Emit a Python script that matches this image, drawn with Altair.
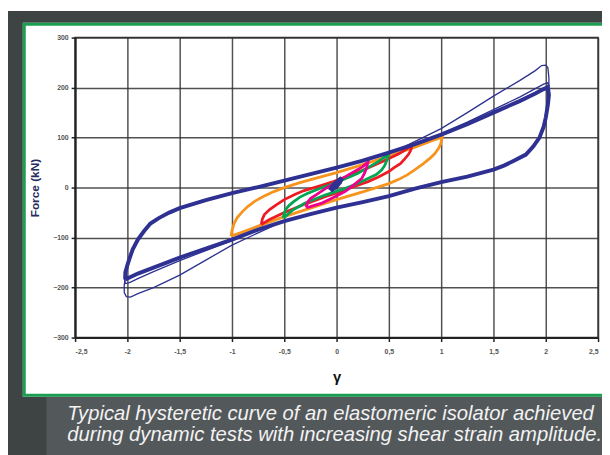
import altair as alt
import pandas as pd

# ---------------- data ----------------
x_ticks = [-2.5, -2, -1.5, -1, -0.5, 0, 0.5, 1, 1.5, 2, 2.5]
y_ticks = [-300, -200, -100, 0, 100, 200, 300]

# main large loop (gamma = +/-2), several stabilised cycles
main_gamma = [-2.02, -2.02, -2.0, -1.98, -1.95, -1.9, -1.84, -1.78, -1.7, -1.6, -1.5, -1.25, -1.0, -0.75, -0.5,
              -0.25, 0.0, 0.25, 0.5, 0.75, 1.0, 1.25, 1.5, 1.75, 1.9, 1.98, 2.02,
              2.03, 2.02, 2.0, 1.98, 1.94, 1.88, 1.81, 1.7, 1.6, 1.5, 1.25, 1.0, 0.75, 0.5, 0.25, 0.0,
              -0.25, -0.5, -0.75, -1.0, -1.25, -1.5, -1.75, -1.9, -1.98, -2.02]
main_force = [-184, -170, -155, -142, -124, -104, -87, -72, -61, -50, -41, -25, -11, 1, 14,
              27, 40, 54, 70, 87, 106, 127, 150, 173, 188, 197, 201,
              185, 165, 140, 122, 100, 82, 66, 54, 44, 36, 22, 11, -2, -17, -29, -40,
              -53, -67, -84, -104, -122, -140, -160, -172, -180, -184]

# first large cycle (thin line, overshoot)
first_up_gamma = [0.6, 1.0, 1.25, 1.5, 1.75, 1.9, 1.96, 2.0, 2.02, 2.03, 2.03, 2.02]
first_up_force = [77, 118, 150, 183, 214, 234, 244, 245, 240, 220, 195, 170]
first_dn_gamma = [-0.6, -1.0, -1.25, -1.5, -1.75, -1.9, -1.97, -2.01, -2.03, -2.03, -2.02]
first_dn_force = [-76, -115, -145, -175, -200, -212, -219, -218, -210, -195, -180]

# second large cycle (thin line, slightly outside the main bundle)
second_up_gamma = [1.0, 1.25, 1.5, 1.75, 1.9, 1.98, 2.02, 2.03, 2.02]
second_up_force = [108, 131, 156, 181, 198, 207, 210, 195, 170]
second_dn_gamma = [-1.0, -1.25, -1.5, -1.75, -1.9, -1.98, -2.02, -2.03, -2.02]
second_dn_force = [-106, -126, -146, -168, -182, -190, -192, -180, -165]

orange_gamma = [-1.01, -1.0, -0.98, -0.95, -0.9, -0.85, -0.78, -0.7, -0.6, -0.5, -0.35, -0.16, 0.0, 0.25, 0.5,
                0.75, 0.9, 1.0, 1.01, 1.0, 0.98, 0.94, 0.9, 0.83, 0.75, 0.68, 0.6, 0.5, 0.35, 0.21, 0.0,
                -0.25, -0.5, -0.75, -0.9, -1.01]
orange_force = [-97, -86, -72, -60, -48, -38, -27, -18, -8, 0, 10, 21, 30, 46, 63,
                81, 93, 100, 102, 90, 80, 68, 60, 48, 36, 26, 17, 8, -2, -11, -24,
                -41, -58, -77, -89, -97]

red_gamma = [-0.72, -0.71, -0.69, -0.64, -0.58, -0.5, -0.4, -0.31, -0.15, -0.03, 0.15, 0.3, 0.45, 0.6, 0.72,
             0.71, 0.69, 0.65, 0.61, 0.55, 0.5, 0.4, 0.3, 0.15, 0.05, -0.11, -0.3, -0.5, -0.65, -0.72]
red_force = [-74, -63, -54, -44, -35, -24, -14, -6, 4, 12, 26, 39, 53, 68, 84,
             75, 67, 57, 48, 40, 32, 21, 12, 1, -7, -18, -33, -50, -65, -74]

green_gamma = [-0.51, -0.5, -0.48, -0.45, -0.41, -0.35, -0.28, -0.15, -0.03, 0.1, 0.2, 0.3, 0.4, 0.47, 0.5,
               0.49, 0.48, 0.46, 0.43, 0.38, 0.3, 0.2, 0.08, -0.11, -0.3, -0.42, -0.51]
green_force = [-61, -50, -42, -35, -28, -19, -12, -1, 8, 19, 28, 40, 52, 63, 68,
               60, 54, 44, 35, 26, 18, 8, -2, -15, -31, -45, -61]

magenta_gamma = [-0.29, -0.28, -0.25, -0.2, -0.1, 0.02, 0.15, 0.25, 0.3,
                 0.29, 0.27, 0.24, 0.18, 0.15, 0.08, -0.03, -0.14, -0.25, -0.29]
magenta_force = [-40, -30, -22, -15, -1, 14, 30, 42, 51,
                 42, 30, 18, 8, 3, -8, -20, -31, -38, -40]

tiny_gamma = [-0.06, -0.04, -0.01, 0.02, 0.05, 0.03, 0.0, -0.03, -0.06]
tiny_force = [-6, 2, 9, 14, 19, 10, 3, -2, -6]

caption_line1 = "Typical hysteretic curve of an elastomeric isolator achieved"
caption_line2 = "during dynamic tests with increasing shear strain amplitude."
x_title = "γ"
y_title = "Force (kN)"

# ---------------- build table ----------------
rows = []


def add(name, g, f):
    for i, (a, b) in enumerate(zip(g, f)):
        rows.append({"series": name, "idx": i, "gamma": a, "force": b})


add("first_up", first_up_gamma, first_up_force)
add("first_dn", first_dn_gamma, first_dn_force)
add("second_up", second_up_gamma, second_up_force)
add("second_dn", second_dn_gamma, second_dn_force)
add("main", main_gamma, main_force)
add("orange", orange_gamma, orange_force)
add("red", red_gamma, red_force)
add("green", green_gamma, green_force)
add("magenta", magenta_gamma, magenta_force)
add("tiny", tiny_gamma, tiny_force)
df = pd.DataFrame(rows)

navy = "#2e3192"
color_domain = ["first_up", "first_dn", "second_up", "second_dn", "main", "orange", "red", "green", "magenta", "tiny"]
color_range = [navy, navy, navy, navy, navy, "#f7941d", "#ed1c24", "#00a651", "#ec008c", navy]

W, H = 530, 304
PL, PT = 68, 27

xscale = alt.Scale(domain=[-2.5, 2.5], nice=False, zero=False)
yscale = alt.Scale(domain=[-300, 300], nice=False, zero=False)

x_axis = alt.Axis(values=x_ticks, labelExpr="replace(toString(datum.value), '.', ',')",
                  title=x_title, titleFontSize=15, titleFontWeight="bold", titleColor="#111",
                  titleY=40, titleBaseline="middle", titleFont="Liberation Sans",
                  labelFontSize=7, labelColor="#555", labelPadding=6, labelFont="Liberation Sans",
                  labelFontWeight="bold",
                  tickSize=4, tickColor="#222", tickWidth=1.5, domainColor="#222", domainWidth=2,
                  grid=True, gridColor="#333333", gridWidth=1.5, gridOpacity=0.85)
y_axis = alt.Axis(values=y_ticks, title=y_title, titleFontSize=12, titleFontWeight="bold",
                  titleColor="#262b5e", titleX=-41, titleY=H / 2, titleAngle=270, titleBaseline="middle",
                  titleFont="Liberation Sans",
                  labelFontSize=7, labelColor="#555", labelPadding=3, labelFont="Liberation Sans",
                  labelFontWeight="bold",
                  tickSize=4, tickColor="#222", tickWidth=1.5, domainColor="#222", domainWidth=2,
                  grid=True, gridColor="#333333", gridWidth=1.5, gridOpacity=0.85)

base = alt.Chart(df)
enc = dict(
    x=alt.X("gamma:Q", scale=xscale, axis=x_axis),
    y=alt.Y("force:Q", scale=yscale, axis=y_axis),
    color=alt.Color("series:N", scale=alt.Scale(domain=color_domain, range=color_range), legend=None),
    detail="series:N",
    order=alt.Order("idx:Q"),
)

thin = base.transform_filter(
    alt.FieldOneOfPredicate(field="series", oneOf=["first_up", "first_dn", "second_up", "second_dn"])
).mark_line(strokeWidth=1.3).encode(**enc)
small = base.transform_filter(
    alt.FieldOneOfPredicate(field="series", oneOf=["orange", "red", "green", "magenta"])
).mark_line(strokeWidth=2.8).encode(**enc)
main = base.transform_filter(alt.datum.series == "main").mark_line(strokeWidth=4).encode(**enc)
tiny = base.transform_filter(alt.datum.series == "tiny").mark_line(strokeWidth=4.5).encode(**enc)

one = alt.Data(values=[{}])
dark = "#3e4343"
deco_top = alt.Chart(one).mark_rect(color=dark).encode(
    x=alt.value(-PL), x2=alt.value(W + 10), y=alt.value(-PT), y2=alt.value(-15))
deco_left = alt.Chart(one).mark_rect(color=dark).encode(
    x=alt.value(-PL), x2=alt.value(-53), y=alt.value(-PT), y2=alt.value(430))
deco_bottom = alt.Chart(one).mark_rect(color=dark).encode(
    x=alt.value(-PL), x2=alt.value(W + 10), y=alt.value(364), y2=alt.value(430))
deco_caption = alt.Chart(one).mark_rect(color="#53585b").encode(
    x=alt.value(-29), x2=alt.value(W + 10), y=alt.value(364), y2=alt.value(430))
deco_frame = alt.Chart(one).mark_rect(fillOpacity=0, stroke="#1c9e50", strokeWidth=3).encode(
    x=alt.value(-51.5), x2=alt.value(W + 60), y=alt.value(-13.5), y2=alt.value(362.5))

cap_font = "Liberation Sans"
cap1 = alt.Chart(one).mark_text(align="left", baseline="alphabetic", font=cap_font, fontSize=20.5,
                                fontStyle="italic", color="#f2f2f2").encode(
    x=alt.value(-8), y=alt.value(388), text=alt.value(caption_line1))
cap2 = alt.Chart(one).mark_text(align="left", baseline="alphabetic", font=cap_font, fontSize=20.5,
                                fontStyle="italic", color="#f2f2f2").encode(
    x=alt.value(-8), y=alt.value(409), text=alt.value(caption_line2))

chart = alt.layer(
    deco_top, deco_left, deco_bottom, deco_caption, deco_frame, cap1, cap2,
    thin, small, main, tiny
).properties(
    width=W, height=H,
    autosize=alt.AutoSizeParams(type="none"),
    padding={"left": PL, "top": PT, "right": 4, "bottom": 116},
).configure(background="white").configure_view(stroke="#333333", strokeWidth=1.5)

chart.save("out.html", embed_options={"renderer": "svg", "actions": False})
